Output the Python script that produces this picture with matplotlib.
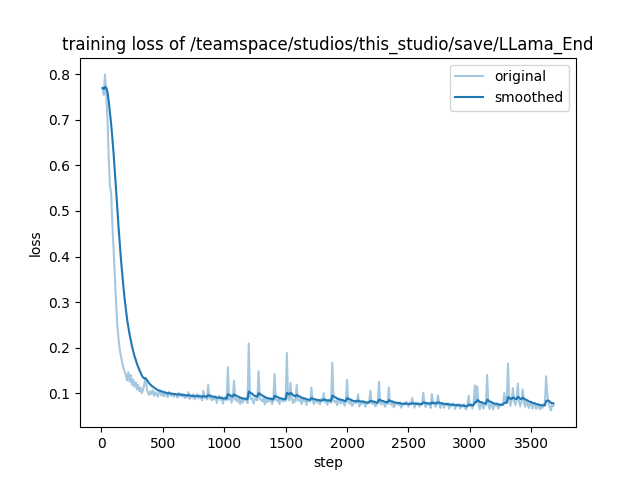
import matplotlib
matplotlib.use("Agg")
import matplotlib.pyplot as plt
import numpy as np

loss_0000 = [
    0.770, 0.755, 0.800, 0.760, 0.705, 0.620, 0.555, 0.540, 0.470, 0.415,
    0.355, 0.300, 0.250, 0.220, 0.195, 0.180, 0.168, 0.155, 0.147, 0.140,
    0.128, 0.146, 0.125, 0.140, 0.118, 0.130, 0.114, 0.124, 0.108, 0.118,
    0.104, 0.112, 0.100, 0.108, 0.120, 0.134, 0.110, 0.100, 0.096, 0.104,
    0.098, 0.106, 0.094, 0.102, 0.097, 0.092, 0.104, 0.099, 0.095, 0.101,
]
loss_0500 = [
    0.093, 0.100, 0.096, 0.091, 0.103, 0.097, 0.094, 0.099, 0.092, 0.098,
    0.096, 0.090, 0.101, 0.094, 0.098, 0.092, 0.097, 0.089, 0.095, 0.091,
    0.102, 0.087, 0.094, 0.090, 0.097, 0.086, 0.093, 0.098, 0.088, 0.095,
    0.090, 0.084, 0.105, 0.089, 0.093, 0.086, 0.118, 0.088, 0.092, 0.084,
    0.090, 0.086, 0.093, 0.078, 0.089, 0.094, 0.085, 0.091, 0.077, 0.088,
]
loss_1000 = [
    0.092, 0.084, 0.157, 0.086, 0.090, 0.079, 0.089, 0.127, 0.085, 0.088,
    0.081, 0.087, 0.076, 0.090, 0.079, 0.086, 0.084, 0.088, 0.078, 0.209,
    0.092, 0.086, 0.089, 0.077, 0.087, 0.091, 0.084, 0.148, 0.088, 0.085,
    0.082, 0.089, 0.075, 0.087, 0.080, 0.086, 0.083, 0.088, 0.076, 0.085,
    0.142, 0.087, 0.083, 0.086, 0.076, 0.088, 0.084, 0.081, 0.086, 0.083,
]
loss_1500 = [
    0.188, 0.089, 0.084, 0.123, 0.087, 0.078, 0.086, 0.081, 0.118, 0.085,
    0.083, 0.087, 0.076, 0.086, 0.082, 0.088, 0.074, 0.085, 0.083, 0.081,
    0.112, 0.084, 0.076, 0.086, 0.082, 0.079, 0.085, 0.075, 0.087, 0.083,
    0.100, 0.080, 0.084, 0.074, 0.086, 0.082, 0.078, 0.167, 0.084, 0.080,
    0.083, 0.073, 0.085, 0.081, 0.077, 0.084, 0.080, 0.072, 0.082, 0.129,
]
loss_2000 = [
    0.081, 0.077, 0.083, 0.072, 0.076, 0.082, 0.078, 0.080, 0.097, 0.071,
    0.081, 0.076, 0.083, 0.078, 0.070, 0.080, 0.077, 0.082, 0.105, 0.078,
    0.076, 0.081, 0.071, 0.074, 0.080, 0.125, 0.078, 0.075, 0.081, 0.077,
    0.070, 0.079, 0.076, 0.112, 0.078, 0.074, 0.080, 0.069, 0.073, 0.079,
    0.077, 0.074, 0.080, 0.068, 0.073, 0.078, 0.075, 0.081, 0.076, 0.070,
]
loss_2500 = [
    0.079, 0.075, 0.089, 0.077, 0.068, 0.079, 0.075, 0.078, 0.070, 0.077,
    0.075, 0.101, 0.078, 0.069, 0.079, 0.075, 0.077, 0.067, 0.098, 0.076,
    0.079, 0.070, 0.077, 0.095, 0.076, 0.067, 0.078, 0.075, 0.068, 0.077,
    0.074, 0.078, 0.066, 0.076, 0.071, 0.077, 0.074, 0.065, 0.075, 0.072,
    0.076, 0.066, 0.074, 0.070, 0.075, 0.068, 0.064, 0.074, 0.094, 0.071,
]
loss_3000 = [
    0.075, 0.066, 0.078, 0.117, 0.080, 0.115, 0.076, 0.064, 0.078, 0.074,
    0.066, 0.076, 0.073, 0.140, 0.075, 0.065, 0.077, 0.073, 0.064, 0.075,
    0.072, 0.077, 0.066, 0.070, 0.076, 0.073, 0.078, 0.100, 0.082, 0.079,
    0.165, 0.084, 0.072, 0.086, 0.111, 0.082, 0.074, 0.085, 0.121, 0.081,
    0.071, 0.083, 0.108, 0.079, 0.070, 0.081, 0.076, 0.067, 0.079, 0.075,
]
loss_3500 = [
    0.066, 0.077, 0.073, 0.065, 0.075, 0.072, 0.064, 0.074, 0.067, 0.076,
    0.073, 0.137, 0.096, 0.078, 0.069, 0.062, 0.076, 0.072,
]

loss = np.array(loss_0000 + loss_0500 + loss_1000 + loss_1500 +
                loss_2000 + loss_2500 + loss_3000 + loss_3500)
steps = np.arange(1, len(loss) + 1) * 10


def smooth(scalars, weight=0.86):
    # exponential moving average
    last = scalars[0]
    smoothed = []
    for v in scalars:
        last = last * weight + (1 - weight) * v
        smoothed.append(last)
    return smoothed


fig = plt.figure(figsize=(6.4, 4.8), dpi=100)
plt.plot(steps, loss, color="#1f77b4", alpha=0.4, label="original")
plt.plot(steps, smooth(loss), color="#1f77b4", label="smoothed")
plt.title("training loss of /teamspace/studios/this_studio/save/LLama_End")
plt.xlabel("step")
plt.ylabel("loss")
plt.legend()
plt.savefig("out.png", dpi=100)
